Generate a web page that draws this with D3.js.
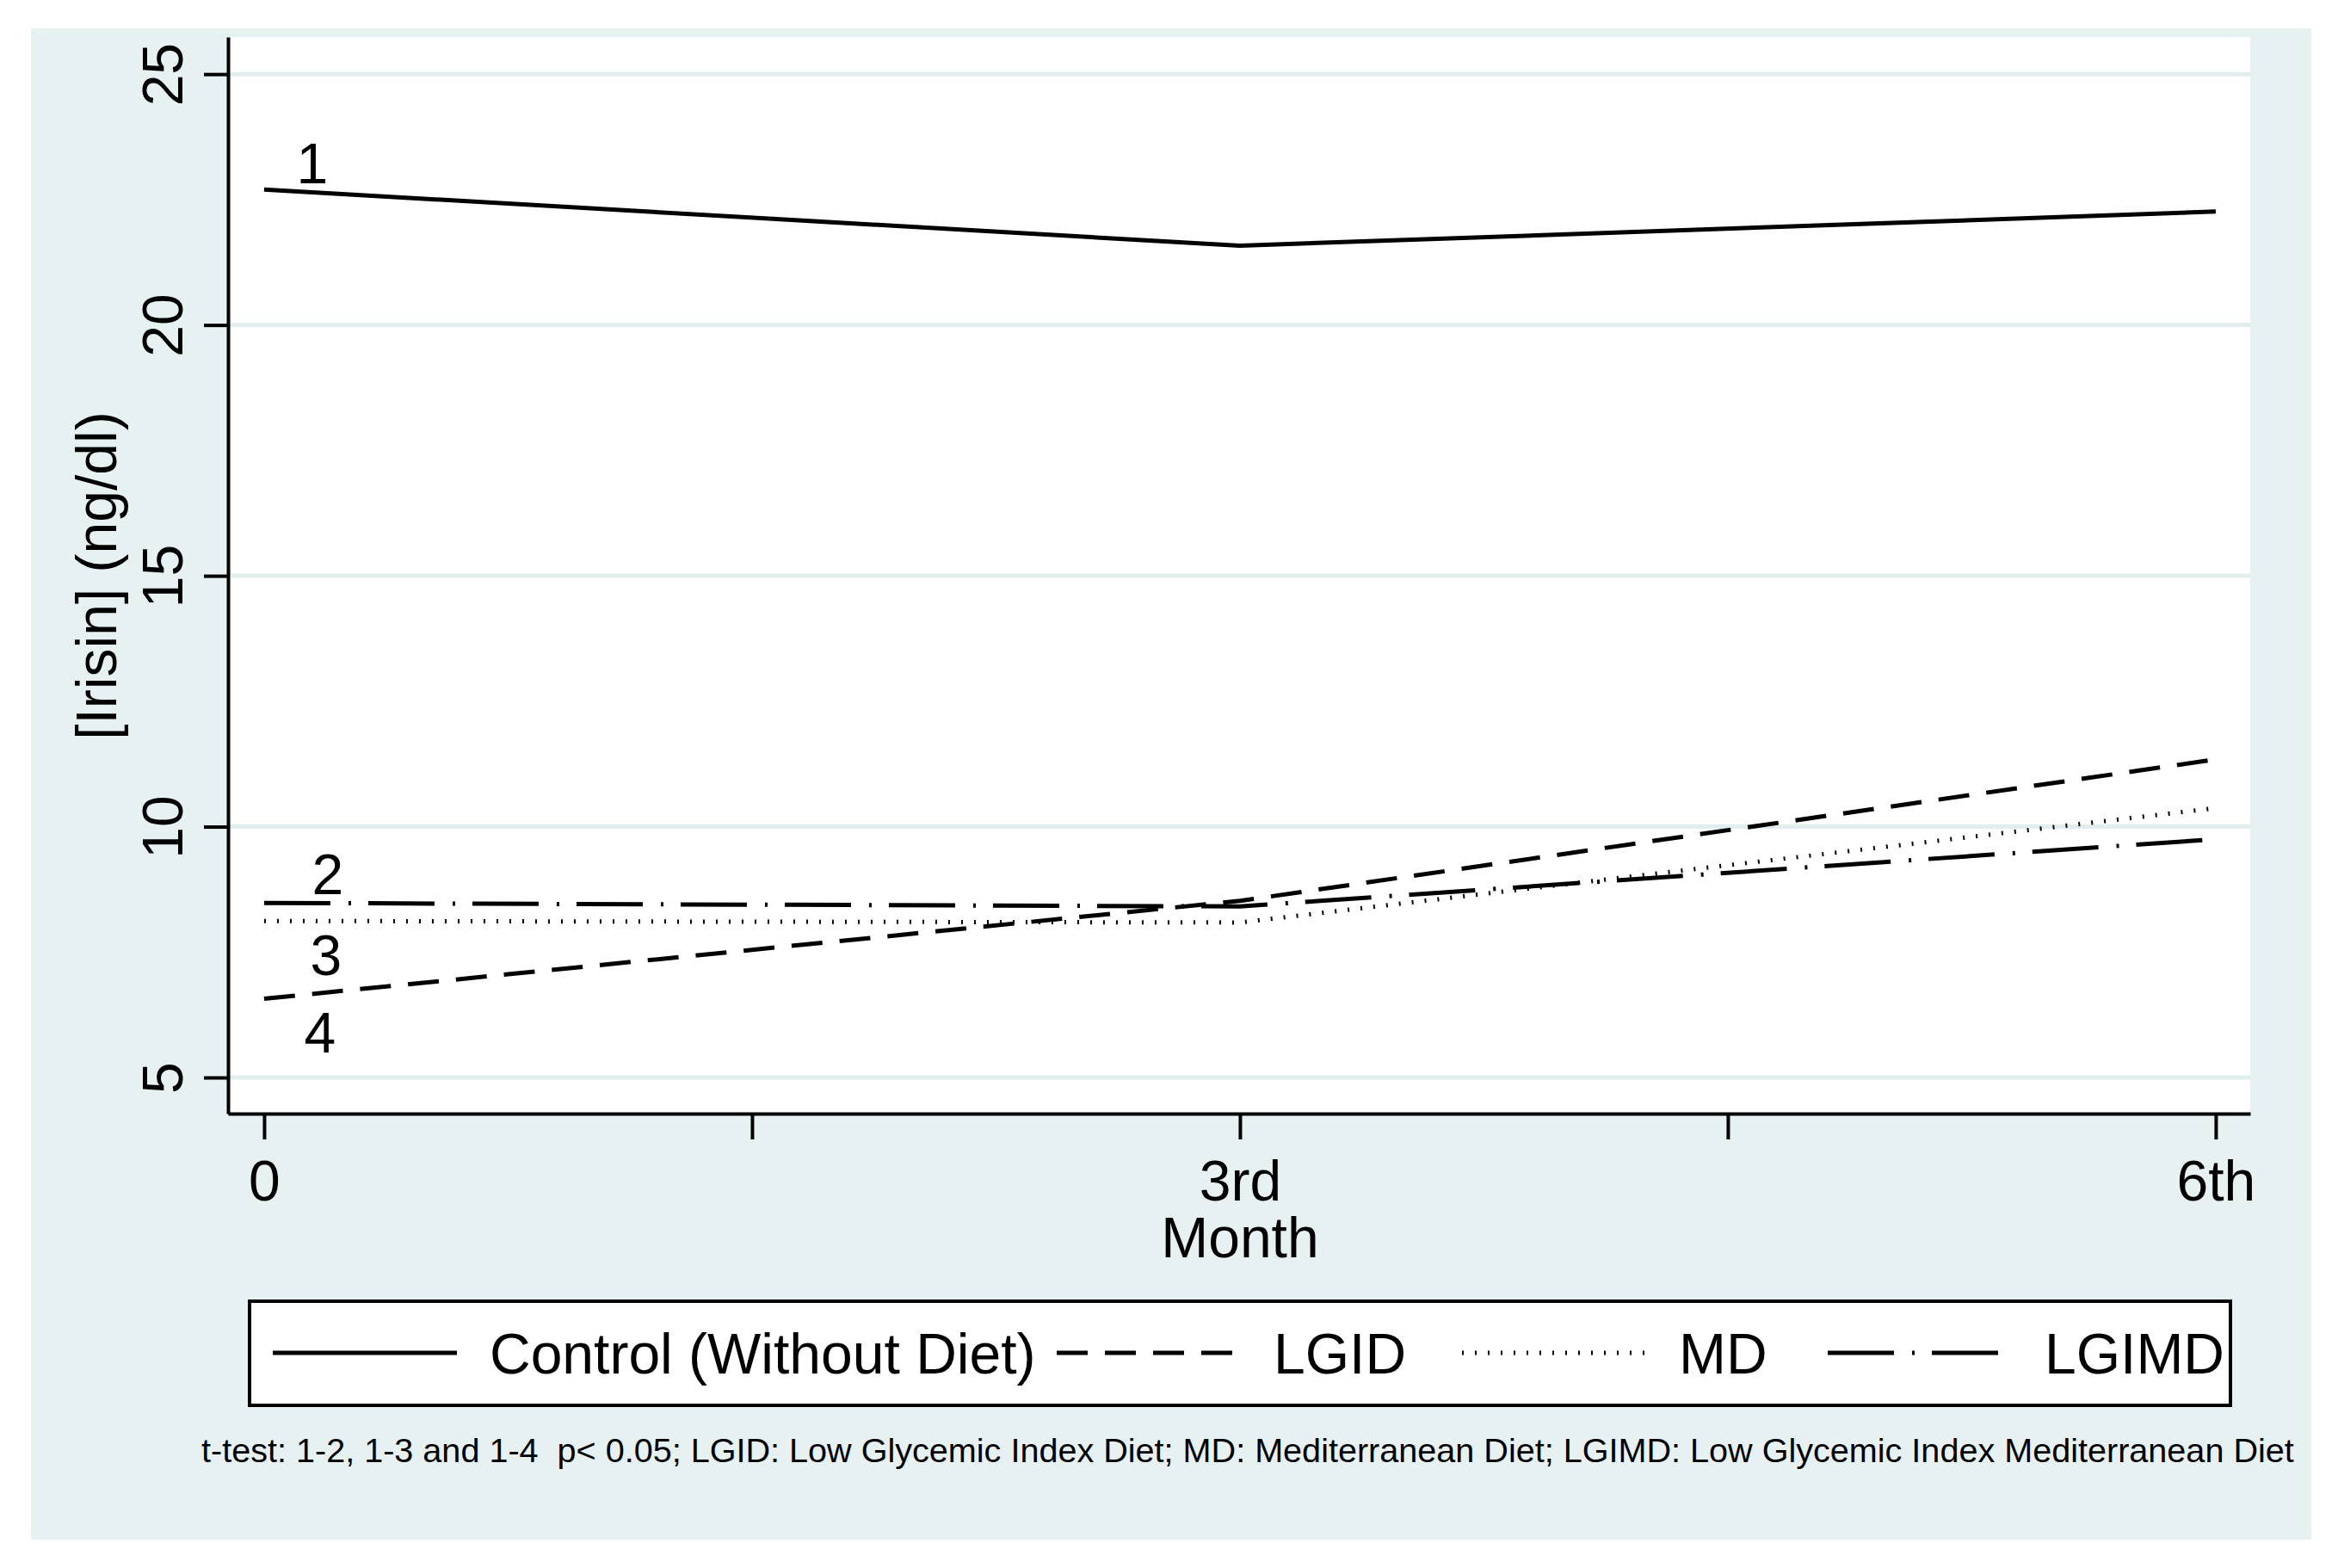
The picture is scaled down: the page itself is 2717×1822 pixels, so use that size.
<!DOCTYPE html>
<html>
<head>
<meta charset="utf-8">
<script src="https://cdn.jsdelivr.net/npm/d3@7"></script>
<style>
  body { margin: 0; background: #fff; }
  text { font-family: "Liberation Sans", Arial, sans-serif; fill: #000; white-space: pre; }
</style>
</head>
<body>
<svg id="chart" width="2717" height="1822"></svg>
<script>
// data
var months = [0, 3, 6];
var control = [22.70, 21.58, 22.26];
var lgid = [6.57, 8.52, 11.34];
var md = [8.12, 8.09, 10.37];
var lgimd = [8.48, 8.41, 9.75];

var seriesNames = ["Control (Without Diet)", "LGID", "MD", "LGIMD"];
var yTicks = [5, 10, 15, 20, 25];
var xTicks = [0, 1.5, 3, 4.5, 6];
var xTickLabels = ["0", "", "3rd", "", "6th"];
var footnote = "t-test: 1-2, 1-3 and 1-4  p< 0.05; LGID: Low Glycemic Index Diet; MD: Mediterranean Diet; LGIMD: Low Glycemic Index Mediterranean Diet";

var svg = d3.select("#chart"),
    bg = "#e8f1f2";

// plot region
var plotL = 265, plotR = 2615, plotT = 43, plotB = 1294;

var x = d3.scaleLinear().domain([-0.111, 6.106]).range([plotL, plotR]),
    y = d3.scaleLinear().domain([4.28, 25.74]).range([plotB, plotT]);

// graph region background
svg.append("rect")
    .attr("x", 36).attr("y", 33)
    .attr("width", 2650).attr("height", 1756)
    .attr("fill", bg);

svg.append("rect")
    .attr("x", plotL).attr("y", plotT)
    .attr("width", plotR - plotL).attr("height", plotB - plotT)
    .attr("fill", "#fff");

// gridlines
svg.append("g").selectAll("line")
    .data(yTicks)
    .enter().append("line")
    .attr("x1", plotL).attr("x2", plotR)
    .attr("y1", function(d) { return y(d); })
    .attr("y2", function(d) { return y(d); })
    .attr("stroke", "#e2eded")
    .attr("stroke-width", 5);

// y axis
var yAxis = svg.append("g")
    .attr("transform", "translate(" + plotL + ",0)")
    .call(d3.axisLeft(y).tickValues(yTicks).tickSize(28).tickSizeOuter(0));

yAxis.select(".domain").attr("stroke-width", 4);
yAxis.selectAll(".tick line").attr("stroke-width", 4);
yAxis.selectAll(".tick text")
    .attr("x", 0).attr("dy", 0)
    .attr("text-anchor", "middle")
    .attr("transform", "translate(-53,0) rotate(-90)")
    .style("font-size", "66px")
    .style("font-family", "'Liberation Sans', Arial, sans-serif");

// x axis
var xAxis = svg.append("g")
    .attr("transform", "translate(0," + plotB + ")")
    .call(d3.axisBottom(x).tickValues(xTicks).tickSize(30).tickSizeOuter(0)
        .tickFormat(function(d, i) { return xTickLabels[i]; }));

xAxis.select(".domain").attr("stroke-width", 4);
xAxis.selectAll(".tick line").attr("stroke-width", 4);
xAxis.selectAll(".tick text")
    .attr("y", 101).attr("dy", 0)
    .style("font-size", "66px")
    .style("font-family", "'Liberation Sans', Arial, sans-serif");

// axis titles
svg.append("text")
    .attr("x", x(3)).attr("y", 1461)
    .attr("text-anchor", "middle")
    .attr("font-size", "66px")
    .text("Month");

svg.append("text")
    .attr("transform", "translate(135," + y(15) + ") rotate(-90)")
    .attr("text-anchor", "middle")
    .attr("font-size", "66px")
    .text("[Irisin] (ng/dl)");

// lines
var styles = [
    { values: control, dash: null, width: 5 },
    { values: lgid, dash: "36,20", width: 5 },
    { values: md, dash: "2,13", width: 5 },
    { values: lgimd, dash: "77,21,3,20", width: 5 }
];

var line = d3.line()
    .x(function(d, i) { return x(months[i]); })
    .y(function(d) { return y(d); });

svg.append("g").selectAll("path")
    .data(styles)
    .enter().append("path")
    .attr("d", function(s) { return line(s.values); })
    .attr("fill", "none")
    .attr("stroke", "#000")
    .attr("stroke-width", function(s) { return s.width; })
    .attr("stroke-dasharray", function(s) { return s.dash; });

// group numbers at the first point
var numLabels = [
    { t: "1", v: control[0], dx: 56, dy: -7 },
    { t: "2", v: lgimd[0], dx: 74, dy: -10 },
    { t: "3", v: md[0], dx: 72, dy: 63 },
    { t: "4", v: lgid[0], dx: 65, dy: 62 }
];
svg.append("g").selectAll("text")
    .data(numLabels)
    .enter().append("text")
    .attr("x", function(d) { return x(months[0]) + d.dx; })
    .attr("y", function(d) { return y(d.v) + d.dy; })
    .attr("text-anchor", "middle")
    .attr("font-size", "66px")
    .text(function(d) { return d.t; });

// legend
svg.append("rect")
    .attr("x", 290).attr("y", 1512)
    .attr("width", 2302).attr("height", 121)
    .attr("fill", "#fff")
    .attr("stroke", "#000")
    .attr("stroke-width", 4);

var keyX = [317, 1228, 1699, 2124];
var leg = svg.append("g").selectAll("g")
    .data(styles)
    .enter().append("g")
    .attr("transform", function(d, i) { return "translate(" + keyX[i] + ",0)"; });

leg.append("line")
    .attr("x1", 0).attr("x2", 214)
    .attr("y1", 1572).attr("y2", 1572)
    .attr("stroke", "#000")
    .attr("stroke-width", function(s) { return s.width; })
    .attr("stroke-dasharray", function(s) { return s.dash; });

leg.append("text")
    .attr("x", 252).attr("y", 1596)
    .attr("font-size", "66px")
    .text(function(d, i) { return seriesNames[i]; });

// footnote
var note = svg.append("text")
    .attr("x", 234).attr("y", 1699)
    .attr("font-size", "38px")
    .text(footnote);
var w = note.node().getComputedTextLength();
note.attr("font-size", (38 * 2431 / w).toFixed(1) + "px");
</script>
</body>
</html>
